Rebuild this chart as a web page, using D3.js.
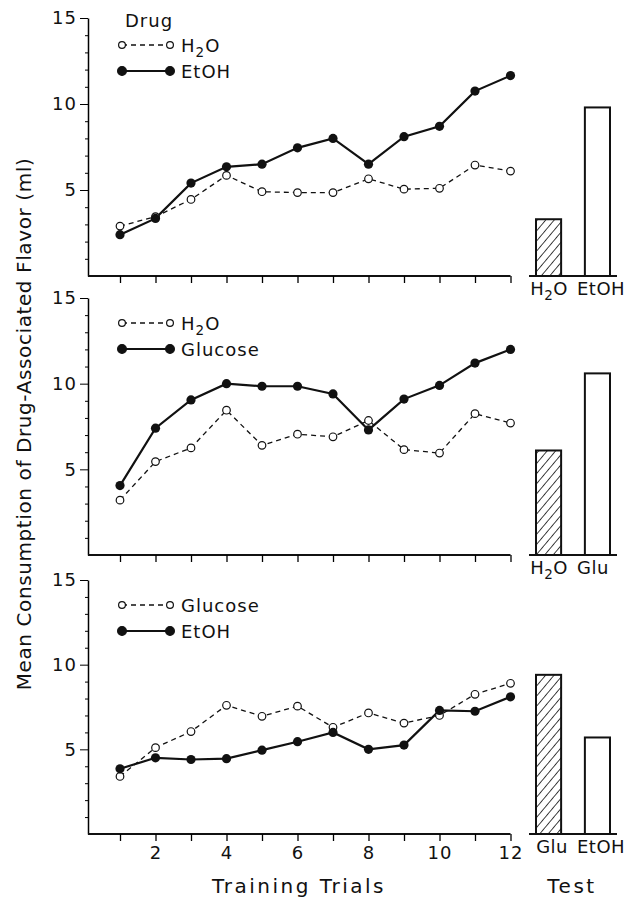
<!DOCTYPE html>
<html>
<head>
<meta charset="utf-8">
<script src="https://cdn.jsdelivr.net/npm/d3@7"></script>
<style>
  body { margin: 0; background: #fff; }
  svg { font-family: "DejaVu Sans", sans-serif; fill: #111; }
</style>
</head>
<body>
<div id="chart"></div>
<script>
// trials on the x axis
const trials = [1, 2, 3, 4, 5, 6, 7, 8, 9, 10, 11, 12];
const xTickLabels = [2, 4, 6, 8, 10, 12];
const yTickLabels = [5, 10, 15];

// panel 1: drug H2O vs EtOH
const p1Open = [2.9, 3.45, 4.45, 5.85, 4.9, 4.85, 4.85, 5.65, 5.05, 5.1, 6.45, 6.1];
const p1Filled = [2.4, 3.35, 5.4, 6.35, 6.5, 7.45, 8.0, 6.5, 8.1, 8.7, 10.75, 11.65];
const p1Names = ["H2O", "EtOH"];
const p1Test = [3.3, 9.8];

// panel 2: H2O vs Glucose
const p2Open = [3.2, 5.45, 6.25, 8.45, 6.4, 7.05, 6.9, 7.85, 6.15, 5.95, 8.25, 7.7];
const p2Filled = [4.05, 7.4, 9.05, 10.0, 9.85, 9.85, 9.4, 7.3, 9.1, 9.9, 11.2, 12.0];
const p2Names = ["H2O", "Glucose"];
const p2TestLabels = ["H2O", "Glu"];
const p2Test = [6.1, 10.6];

// panel 3: Glucose vs EtOH
const p3Open = [3.4, 5.1, 6.05, 7.6, 6.95, 7.55, 6.3, 7.15, 6.55, 7.0, 8.25, 8.9];
const p3Filled = [3.85, 4.5, 4.4, 4.45, 4.95, 5.45, 6.0, 5.0, 5.25, 7.3, 7.25, 8.1];
const p3Names = ["Glucose", "EtOH"];
const p3TestLabels = ["Glu", "EtOH"];
const p3Test = [9.4, 5.7];

const panels = [
  { open: p1Open, filled: p1Filled, names: p1Names, testLabels: p1Names, test: p1Test, top: 18, bottom: 276, header: "Drug" },
  { open: p2Open, filled: p2Filled, names: p2Names, testLabels: p2TestLabels, test: p2Test, top: 298, bottom: 555 },
  { open: p3Open, filled: p3Filled, names: p3Names, testLabels: p3TestLabels, test: p3Test, top: 580, bottom: 834 }
];

const W = 640, H = 897;
const axisX = 88;

const svg = d3.select("#chart").append("svg")
  .attr("width", W).attr("height", H);

// hatch pattern for the first test bar
const defs = svg.append("defs");
defs.append("pattern")
  .attr("id", "hatch")
  .attr("patternUnits", "userSpaceOnUse")
  .attr("width", 6.5).attr("height", 6.5)
  .attr("patternTransform", "rotate(40)")
  .append("line")
  .attr("x1", 0).attr("y1", 0).attr("x2", 0).attr("y2", 6.5)
  .attr("stroke", "#111").attr("stroke-width", 1.6);

const x = d3.scaleLinear().domain([1, 12]).range([120, 510.5]);

// writes "H2O" with a subscript 2
function label(sel, txt) {
  if (txt.indexOf("H2O") === 0) {
    sel.append("tspan").text("H");
    sel.append("tspan").text("2").attr("font-size", "0.75em").attr("dy", 5);
    sel.append("tspan").text("O").attr("dy", -5);
  } else {
    sel.text(txt);
  }
}

panels.forEach((p, i) => {
  const y = d3.scaleLinear().domain([0, 15]).range([p.bottom, p.top]);
  const g = svg.append("g");

  // y axis: labelled major ticks + minor ticks every unit
  const yAxis = g.append("g")
    .attr("transform", "translate(" + axisX + ",0)")
    .call(d3.axisLeft(y).tickValues(yTickLabels).tickSize(8).tickPadding(3).tickSizeOuter(0));
  yAxis.select(".domain").attr("stroke-width", 1.5);
  yAxis.selectAll("text").attr("font-size", 18).attr("letter-spacing", 1)
    .attr("font-family", "DejaVu Sans").attr("fill", "#111");
  g.append("g")
    .attr("transform", "translate(" + axisX + ",0)")
    .call(d3.axisLeft(y).tickValues(d3.range(1, 15).filter(v => v % 5)).tickSize(3).tickFormat(""))
    .select(".domain").remove();

  // x axis line from y axis to trial 12
  g.append("line")
    .attr("x1", axisX).attr("x2", x(12))
    .attr("y1", y(0)).attr("y2", y(0))
    .attr("stroke", "#111").attr("stroke-width", 1.8);
  const xAxis = g.append("g")
    .attr("transform", "translate(0," + y(0) + ")")
    .call(d3.axisBottom(x).tickValues(trials).tickSize(7).tickPadding(5)
      .tickFormat(d => (i === 2 && xTickLabels.includes(d)) ? d : ""));
  xAxis.select(".domain").remove();
  xAxis.selectAll("line").attr("stroke-width", 1.3);
  xAxis.selectAll("text").attr("font-size", 18).attr("letter-spacing", 1)
    .attr("font-family", "DejaVu Sans").attr("fill", "#111");

  const line = d3.line().x((d, k) => x(trials[k])).y(d => y(d));

  g.append("path").datum(p.open)
    .attr("d", line).attr("fill", "none")
    .attr("stroke", "#111").attr("stroke-width", 1.3).attr("stroke-dasharray", "5,4");
  g.append("path").datum(p.filled)
    .attr("d", line).attr("fill", "none")
    .attr("stroke", "#111").attr("stroke-width", 2.2);

  g.selectAll(".open").data(p.open).enter().append("circle")
    .attr("cx", (d, k) => x(trials[k])).attr("cy", d => y(d)).attr("r", 3.8)
    .attr("fill", "#fff").attr("stroke", "#111").attr("stroke-width", 1.2);
  g.selectAll(".filled").data(p.filled).enter().append("circle")
    .attr("cx", (d, k) => x(trials[k])).attr("cy", d => y(d)).attr("r", 4.6)
    .attr("fill", "#111");

  // legend
  let ly = p.top + 25;
  if (p.header) {
    g.append("text").attr("x", 125).attr("y", p.top + 9)
      .attr("font-size", 18).attr("letter-spacing", 1).text(p.header);
    ly = p.top + 27;
  }
  const rows = [{ name: p.names[0], dash: true }, { name: p.names[1], dash: false }];
  rows.forEach((r, k) => {
    const yy = ly + k * 26;
    g.append("line").attr("x1", 122).attr("x2", 170).attr("y1", yy).attr("y2", yy)
      .attr("stroke", "#111").attr("stroke-width", r.dash ? 1.3 : 2.2)
      .attr("stroke-dasharray", r.dash ? "5,4" : null);
    [122, 170].forEach(cx => {
      g.append("circle").attr("cx", cx).attr("cy", yy).attr("r", r.dash ? 3.4 : 4.4)
        .attr("fill", r.dash ? "#fff" : "#111").attr("stroke", "#111").attr("stroke-width", 1.2);
    });
    g.append("text").attr("x", 181).attr("y", yy + 7)
      .attr("font-size", 18).attr("letter-spacing", 1)
      .call(label, r.name);
  });

  // test bars
  const b = d3.scaleBand().domain([0, 1]).range([536, 610]).paddingInner(0.486);
  g.append("line").attr("x1", 529).attr("x2", 617).attr("y1", y(0)).attr("y2", y(0))
    .attr("stroke", "#111").attr("stroke-width", 1.8);
  g.selectAll(".bar").data(p.test).enter().append("rect")
    .attr("x", (d, k) => b(k)).attr("width", b.bandwidth())
    .attr("y", d => y(d)).attr("height", d => y(0) - y(d))
    .attr("fill", (d, k) => k === 0 ? "url(#hatch)" : "#fff")
    .attr("stroke", "#111").attr("stroke-width", 2);
  const mid = (b(0) + b.bandwidth() + b(1)) / 2;
  g.append("text").attr("x", mid - 5).attr("y", y(0) + 19).attr("text-anchor", "end")
    .attr("font-size", 18).attr("letter-spacing", 0.5).call(label, p.testLabels[0]);
  g.append("text").attr("x", mid + 4).attr("y", y(0) + 19).attr("text-anchor", "start")
    .attr("font-size", 18).attr("letter-spacing", 0.5).call(label, p.testLabels[1]);
});

// axis titles
svg.append("text")
  .attr("transform", "translate(31,424) rotate(-90)")
  .attr("text-anchor", "middle").attr("font-size", 20).attr("letter-spacing", 0.6)
  .text("Mean Consumption of Drug-Associated Flavor (ml)");
svg.append("text").attr("x", 299).attr("y", 893).attr("text-anchor", "middle")
  .attr("font-size", 20).attr("letter-spacing", 2.5).text("Training Trials");
svg.append("text").attr("x", 572).attr("y", 893).attr("text-anchor", "middle")
  .attr("font-size", 20).attr("letter-spacing", 2.5).text("Test");
</script>
</body>
</html>
